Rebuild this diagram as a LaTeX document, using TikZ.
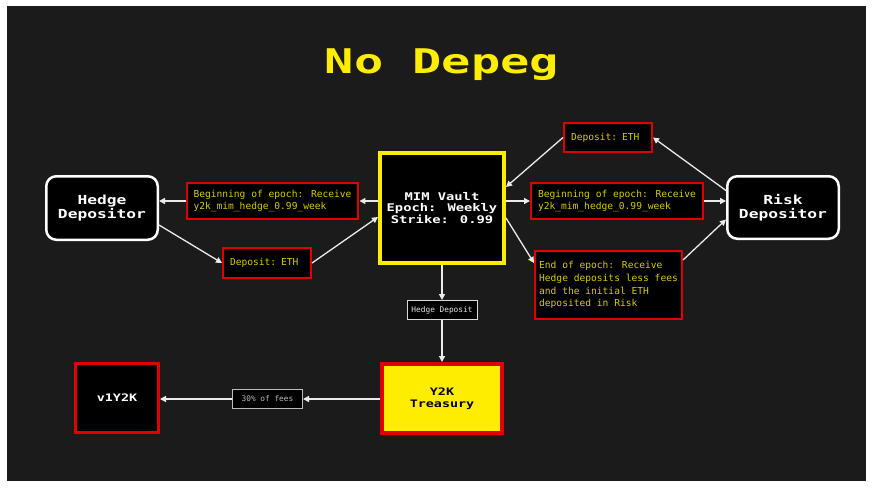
\documentclass[tikz,border=0pt]{standalone}
\usepackage{fontspec}
\usetikzlibrary{arrows.meta}
\newfontfamily\pixfont[FakeStretch=1.3]{DejaVu Sans Mono}
\newfontfamily\titlefont[FakeStretch=1.43]{DejaVu Sans Mono}
\newfontfamily\bodyfont{DejaVu Sans Mono}
\definecolor{bg}{HTML}{1B1B1B}
\definecolor{rd}{HTML}{E00000}
\definecolor{yl}{HTML}{FFED00}
\definecolor{txty}{HTML}{D8CB00}
\definecolor{gr}{HTML}{BBBBBB}
\tikzset{
  redbox/.style={draw=rd, line width=2pt, fill=black, text=txty,
    font=\bodyfont\fontsize{9.6}{12.7}\selectfont, align=left,
    inner xsep=7pt, inner ysep=0pt},
  depbox/.style={draw=white, line width=2.5pt, fill=black, rounded corners=10pt,
    text=white, font=\pixfont\bfseries\fontsize{12.5}{13.5}\selectfont,
    align=center, inner sep=0pt},
  smallbox/.style={draw=gr, line width=1pt, fill=black, text=gr,
    font=\bodyfont\fontsize{7.8}{9}\selectfont, inner sep=0pt},
  arr/.style={draw=white!92!black, line width=1.3pt,
    -{Triangle[length=6pt,width=6pt]}}
}
\begin{document}
\begin{tikzpicture}[x=1pt,y=-1pt]
\useasboundingbox (0,0) rectangle (876,490);
\fill[white] (0,0) rectangle (876,490);
\fill[bg] (7,6) rectangle (866,481);

\node[text=yl, font=\titlefont\bfseries\fontsize{34}{36}\selectfont, anchor=base]
  (title) at (442,73) {No Depeg};

\node[depbox, minimum width=111.5pt, minimum height=63.5pt] (hedge) at (102,208) {Hedge\\Depositor};
\node[depbox, minimum width=111.5pt, minimum height=62.5pt] (risk) at (783,207.5) {Risk\\Depositor};

\node[draw=yl, line width=4pt, fill=black, text=white, align=center, inner sep=0pt,
  font=\pixfont\bfseries\fontsize{10.6}{11.7}\selectfont,
  minimum width=124pt, minimum height=110pt] (mim) at (442,208)
  {MIM Vault\\Epoch: Weekly\\Strike: 0.99};

\node[redbox, minimum width=167pt, minimum height=36pt] (lbeg) at (272.5,201)
  {Beginning of epoch: Receive\\y2k\_mim\_hedge\_0.99\_week};
\node[redbox, minimum width=88pt, minimum height=30pt, text width=74pt] (ldep) at (267,263)
  {Deposit: ETH};
\node[redbox, minimum width=88pt, minimum height=29pt, text width=74pt] (rdep) at (608,137.5)
  {Deposit: ETH};
\node[redbox, minimum width=166pt, minimum height=36pt] (rbeg) at (617,201)
  {Beginning of epoch: Receive\\y2k\_mim\_hedge\_0.99\_week};
\node[redbox, inner xsep=4pt, minimum width=147pt, minimum height=68pt] (rend) at (608.5,285)
  {End of epoch: Receive\\Hedge deposits less fees\\and the initial ETH\\deposited in Risk};

\node[smallbox, draw=white!85!black, text=white!90!black, minimum width=70pt, minimum height=19pt] (hdep) at (442,310) {Hedge Deposit};

\node[draw=rd, line width=4pt, fill=yl, text=black, align=center, inner sep=0pt,
  font=\pixfont\bfseries\fontsize{10.3}{12.3}\selectfont,
  minimum width=120pt, minimum height=69pt] (treas) at (442,398.5) {Y2K\\Treasury};
\node[draw=rd, line width=3pt, fill=black, text=white, inner sep=0pt,
  font=\pixfont\bfseries\fontsize{10.3}{12.3}\selectfont,
  minimum width=83pt, minimum height=69pt] (v1) at (117,398) {v1Y2K};
\node[smallbox, minimum width=70pt, minimum height=19pt] (fees) at (267.5,399) {30\% of fees};

% connectors
\draw[arr] (mim.west |- lbeg.east) -- (lbeg.east);
\draw[arr] (lbeg.west) -- (lbeg.west -| hedge.east);
\draw[arr] ([yshift=-17pt]hedge.east) -- (ldep.west);
\draw[arr] (ldep.east) -- ([yshift=-9pt]mim.west);
\draw[arr] ([yshift=17pt]risk.west) -- (rdep.east);
\draw[arr] (rdep.west) -- ([yshift=21pt]mim.east);
\draw[arr] (mim.east |- rbeg.west) -- (rbeg.west);
\draw[arr] (rbeg.east) -- (rbeg.east -| risk.west);
\draw[arr] ([yshift=-10pt]mim.east) -- ([yshift=22pt]rend.west);
\draw[arr] ([yshift=25pt]rend.east) -- ([yshift=-12pt]risk.west);
\draw[arr] (mim.south) -- (hdep.north);
\draw[arr] (hdep.south) -- (treas.north);
\draw[arr] (treas.west |- fees.east) -- (fees.east);
\draw[arr] (fees.west) -- (fees.west -| v1.east);
\end{tikzpicture}
\end{document}
